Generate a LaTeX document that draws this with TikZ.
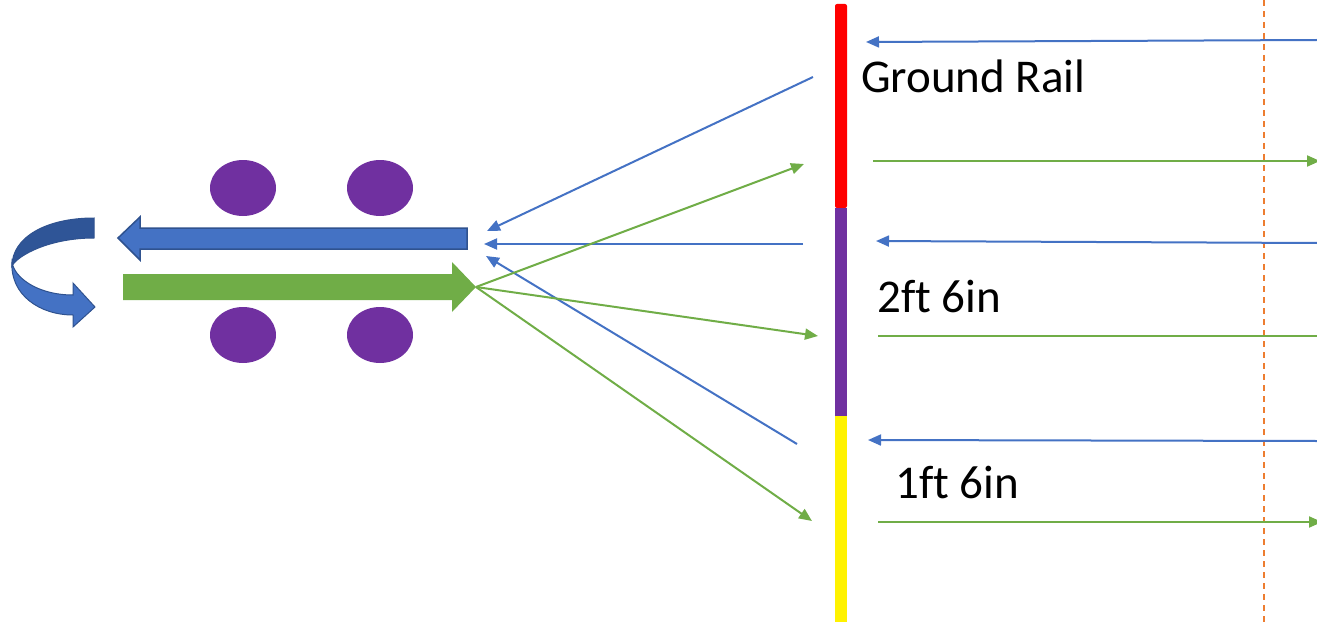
\documentclass[tikz,border=0pt]{standalone}
\usepackage{fontspec}
\setmainfont[Ligatures=NoCommon]{Carlito}
\usetikzlibrary{arrows.meta,shapes.geometric}
\definecolor{myblue}{HTML}{4472C4}
\definecolor{mydarkblue}{HTML}{2F528F}
\definecolor{myback}{HTML}{2F5597}
\definecolor{mygreen}{HTML}{70AD47}
\definecolor{mypurple}{HTML}{7030A0}
\definecolor{myorange}{HTML}{ED7D31}
\tikzset{
  bline/.style={draw=myblue, line width=2pt, -{Triangle[length=13pt,width=11pt]}},
  gline/.style={draw=mygreen, line width=2pt, -{Triangle[length=13pt,width=11pt]}},
  gplain/.style={draw=mygreen, line width=2pt},
  wheel/.style={ellipse, fill=mypurple, minimum width=66pt, minimum height=56pt, inner sep=0pt, draw=none},
  lbl/.style={anchor=base west, inner sep=0pt, font=\fontsize{47pt}{50pt}\selectfont},
}
\begin{document}
\begin{tikzpicture}[x=1pt,y=-1pt]
\useasboundingbox (0,0) rectangle (1317,623);
% dashed orange line
\coordinate (dt) at (1264,0);
\coordinate (db) at (1264,623);
\draw[myorange, line width=1.5pt, dash pattern=on 6pt off 5pt] (dt) -- (db);
% rail
\fill[red, rounded corners=2pt] (835,4) rectangle (847,208);
\fill[mypurple] (835,208) rectangle (847,416);
\fill[yellow] (835,416) rectangle (847,622);
% labels
\node[lbl] (gr) at (861,93) {Ground Rail};
\node[lbl] (l2) at (877,312) {2f\kern0pt t 6in};
\node[lbl] (l1) at (895,498) {1f\kern0pt t 6in};
% right horizontal lines
\coordinate (r1a) at (1317,40);  \coordinate (r1b) at (866,42);
\coordinate (r2a) at (873,161);  \coordinate (r2b) at (1320,161);
\coordinate (r3a) at (1317,243); \coordinate (r3b) at (876,241);
\coordinate (r4a) at (878,336);  \coordinate (r4b) at (1317,336);
\coordinate (r5a) at (1317,441); \coordinate (r5b) at (868,440);
\coordinate (r6a) at (878,522);  \coordinate (r6b) at (1322,522);
\draw[bline] (r1a) -- (r1b);
\draw[gline] (r2a) -- (r2b);
\draw[bline] (r3a) -- (r3b);
\draw[gplain] (r4a) -- (r4b);
\draw[bline] (r5a) -- (r5b);
\draw[gline] (r6a) -- (r6b);
% wheels
\node[wheel] (w1) at (243,188) {};
\node[wheel] (w2) at (380,188) {};
\node[wheel] (w3) at (243,335) {};
\node[wheel] (w4) at (380,335) {};
% block arrows
\filldraw[fill=myblue, draw=mydarkblue, line width=1.5pt]
  (467,228) -- (140,228) -- (140,217) -- (118,238) -- (140,260) -- (140,249) -- (467,249) -- cycle;
\fill[mygreen]
  (123,274) -- (452,274) -- (452,262) -- (476,287) -- (452,312) -- (452,300) -- (123,300) -- cycle;
\coordinate (gtip) at (476,287);
% left converging lines
\coordinate (b1a) at (813,77);  \coordinate (b1b) at (487,231);
\coordinate (b2a) at (803,244); \coordinate (b2b) at (484,244);
\coordinate (b3a) at (797,444); \coordinate (b3b) at (486,256);
\draw[bline] (b1a) -- (b1b);
\draw[bline] (b2a) -- (b2b);
\draw[bline] (b3a) -- (b3b);
\coordinate (g1) at (804,164);
\coordinate (g2) at (818,336);
\coordinate (g3) at (812,521);
\draw[gline] (gtip) -- (g1);
\draw[gline] (gtip) -- (g2);
\draw[gline] (gtip) -- (g3);
% curved u-turn arrow
\filldraw[fill=myback, draw=mydarkblue, line width=1pt]
  (94,218) .. controls (45,218) and (12,238) .. (12,266)
  .. controls (18,255) and (50,238) .. (94,238) -- cycle;
\filldraw[fill=myblue, draw=mydarkblue, line width=1pt]
  (12,262) .. controls (10,295) and (40,315) .. (73,315)
  -- (73,327) -- (95,307) -- (73,283) -- (73,295)
  .. controls (40,295) and (18,280) .. (13,266) -- cycle;
\end{tikzpicture}
\end{document}
